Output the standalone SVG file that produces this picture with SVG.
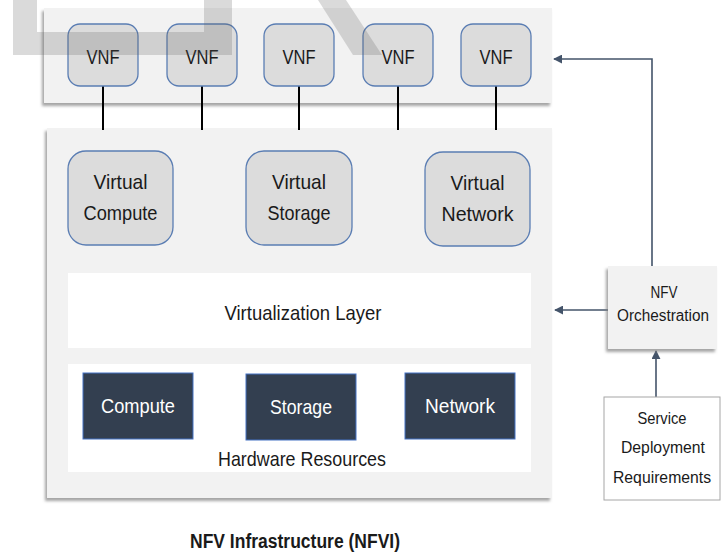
<svg xmlns="http://www.w3.org/2000/svg" width="727" height="556" viewBox="0 0 727 556">
<style>
text{font-family:"Liberation Sans",Arial,sans-serif;fill:#1a1a1a;text-anchor:middle;dominant-baseline:central}
.panel{fill:#f2f2f2;filter:url(#sh)}
.vnf{fill:#dcdcdc;stroke:#5a7db3;stroke-width:1.3}
.hw{fill:#333f50;stroke:#4472c4;stroke-width:1}
.hwt{fill:#ffffff;font-size:21px}
.t17{font-size:17px}
.t16{font-size:16px}
.t20{font-size:21px}
.wm{fill:#5f5f5f;fill-opacity:0.23}
.conn{stroke:#000;stroke-width:2}
.arr{stroke:#44546a;stroke-width:1.6;fill:none}
</style>
<defs>
<filter id="sh" x="-10%" y="-10%" width="120%" height="130%">
<feDropShadow dx="-2" dy="3" stdDeviation="1.6" flood-color="#7f7f7f" flood-opacity="0.7"/>
</filter>
<marker id="ah" viewBox="0 0 10 10" refX="9" refY="5" markerWidth="9" markerHeight="9" markerUnits="userSpaceOnUse" orient="auto">
<path d="M0,0 L10,5 L0,10 z" fill="#44546a"/>
</marker>
</defs>
<rect width="727" height="556" fill="#ffffff"/>

<g id="vnf-layer">
<rect class="panel" x="44" y="8" width="508" height="95"/>
</g>
<g id="nfvi-panel">
<rect class="panel" x="47" y="128" width="505" height="370"/>
</g>

<g id="connectors">
<line class="conn" x1="103" y1="86" x2="103" y2="130"/>
<line class="conn" x1="202" y1="86" x2="202" y2="130"/>
<line class="conn" x1="299" y1="86" x2="299" y2="130"/>
<line class="conn" x1="398" y1="86" x2="398" y2="130"/>
<line class="conn" x1="496" y1="86" x2="496" y2="130"/>
<path class="arr" d="M652,266 V59 H554" marker-end="url(#ah)"/>
<path class="arr" d="M608,310 H555" marker-end="url(#ah)"/>
<path class="arr" d="M656,397 V351" marker-end="url(#ah)"/>
</g>

<g id="vnf1"><rect class="vnf" x="68" y="24" width="70" height="62" rx="12"/><text class="t20" x="103" y="56" textLength="33" lengthAdjust="spacingAndGlyphs">VNF</text></g>
<g id="vnf2"><rect class="vnf" x="167" y="24" width="70" height="62" rx="12"/><text class="t20" x="202" y="56" textLength="33" lengthAdjust="spacingAndGlyphs">VNF</text></g>
<g id="vnf3"><rect class="vnf" x="264" y="24" width="70" height="62" rx="12"/><text class="t20" x="299" y="56" textLength="33" lengthAdjust="spacingAndGlyphs">VNF</text></g>
<g id="vnf4"><rect class="vnf" x="363" y="24" width="70" height="62" rx="12"/><text class="t20" x="398" y="56" textLength="33" lengthAdjust="spacingAndGlyphs">VNF</text></g>
<g id="vnf5"><rect class="vnf" x="461" y="24" width="70" height="62" rx="12"/><text class="t20" x="496" y="56" textLength="33" lengthAdjust="spacingAndGlyphs">VNF</text></g>

<g id="virtual-compute"><rect class="vnf" x="68" y="151" width="105" height="94" rx="18"/><text class="t20" x="120.5" y="181" textLength="54" lengthAdjust="spacingAndGlyphs">Virtual</text><text class="t20" x="120.5" y="212" textLength="74" lengthAdjust="spacingAndGlyphs">Compute</text></g>
<g id="virtual-storage"><rect class="vnf" x="246" y="151" width="106" height="94" rx="18"/><text class="t20" x="299" y="181" textLength="54" lengthAdjust="spacingAndGlyphs">Virtual</text><text class="t20" x="299" y="212" textLength="63" lengthAdjust="spacingAndGlyphs">Storage</text></g>
<g id="virtual-network"><rect class="vnf" x="425" y="152" width="105" height="94" rx="18"/><text class="t20" x="477.5" y="182" textLength="54" lengthAdjust="spacingAndGlyphs">Virtual</text><text class="t20" x="477.5" y="213" textLength="72" lengthAdjust="spacingAndGlyphs">Network</text></g>

<g id="virtualization-layer"><rect x="68" y="273" width="463" height="75" fill="#ffffff"/><text class="t20" x="303" y="312" textLength="157" lengthAdjust="spacingAndGlyphs">Virtualization Layer</text></g>

<g id="hardware-resources"><rect x="68" y="364" width="463" height="108" fill="#ffffff"/><text class="t20" x="302" y="458" textLength="168" lengthAdjust="spacingAndGlyphs">Hardware Resources</text></g>
<g id="compute"><rect class="hw" x="83" y="373" width="110" height="66"/><text class="hwt" x="138" y="405" textLength="74" lengthAdjust="spacingAndGlyphs">Compute</text></g>
<g id="storage"><rect class="hw" x="246" y="374" width="110" height="66"/><text class="hwt" x="301" y="406" textLength="62" lengthAdjust="spacingAndGlyphs">Storage</text></g>
<g id="network"><rect class="hw" x="405" y="373" width="110" height="66"/><text class="hwt" x="460" y="405" textLength="70" lengthAdjust="spacingAndGlyphs">Network</text></g>

<g id="nfv-orchestration"><rect class="panel" x="608" y="266" width="109" height="83"/><text class="t16" x="664" y="292" textLength="27" lengthAdjust="spacingAndGlyphs">NFV</text><text class="t16" x="663" y="315" textLength="92" lengthAdjust="spacingAndGlyphs">Orchestration</text></g>

<g id="service-requirements"><rect x="604" y="397" width="116" height="103" fill="#ffffff" stroke="#a6a6a6" stroke-width="1"/><text class="t17" x="662" y="418" textLength="49" lengthAdjust="spacingAndGlyphs">Service</text><text class="t17" x="663" y="447" textLength="84" lengthAdjust="spacingAndGlyphs">Deployment</text><text class="t17" x="662" y="477" textLength="98" lengthAdjust="spacingAndGlyphs">Requirements</text></g>

<text id="title" x="295" y="541" style="font-size:20px;font-weight:bold" textLength="210" lengthAdjust="spacingAndGlyphs">NFV Infrastructure (NFVI)</text>

<g id="watermark">
<rect class="wm" x="13" y="0" width="24" height="32"/>
<rect class="wm" x="13" y="32" width="219" height="23"/>
<rect class="wm" x="204" y="0" width="28" height="32"/>
<polygon class="wm" points="318,0 346,0 382,55 353,55"/>
</g>
</svg>
